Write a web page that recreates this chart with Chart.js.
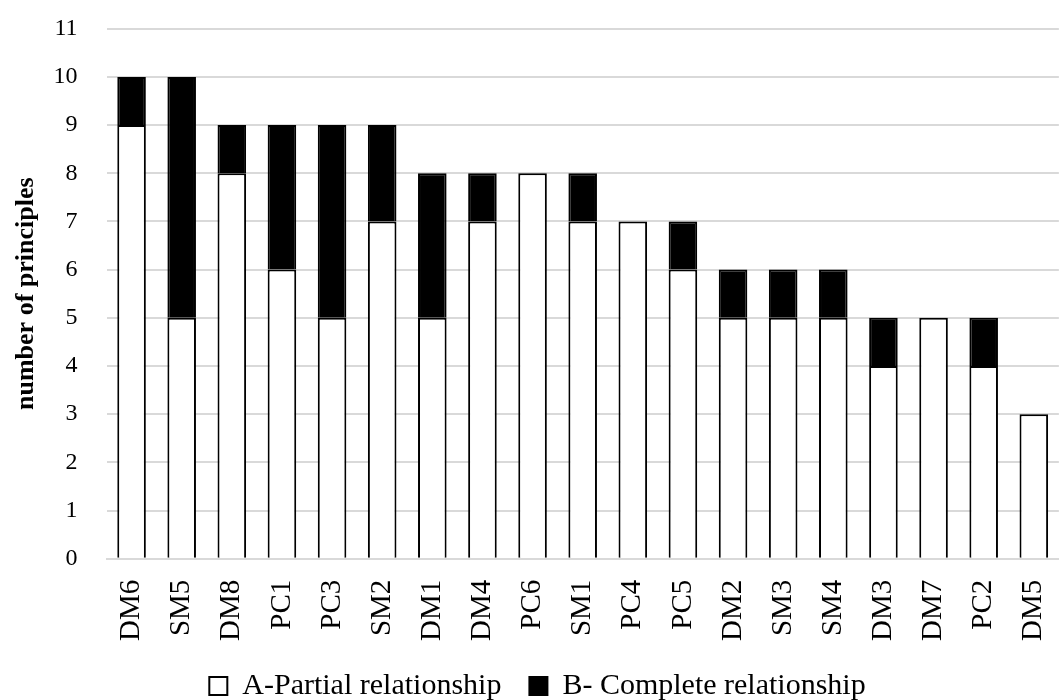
<!DOCTYPE html>
<html>
<head>
<meta charset="utf-8">
<script src="https://cdn.jsdelivr.net/npm/chart.js@4.4.1/dist/chart.umd.min.js"></script>
<style>
  html, body { margin: 0; padding: 0; background: #fff; overflow: hidden; width: 1062px; height: 700px; }
  #chart { display: block; }
</style>
</head>
<body>
<canvas id="chart" width="1090" height="700" style="width:1090px;height:700px"></canvas>
<script>
// Data
const categories = ['DM6', 'SM5', 'DM8', 'PC1', 'PC3', 'SM2', 'DM1', 'DM4', 'PC6', 'SM1',
                    'PC4', 'PC5', 'DM2', 'SM3', 'SM4', 'DM3', 'DM7', 'PC2', 'DM5'];
const partial  = [9, 5, 8, 6, 5, 7, 5, 7, 8, 7, 7, 6, 5, 5, 5, 4, 5, 4, 3];
const complete = [1, 5, 1, 3, 4, 2, 3, 1, 0, 1, 0, 1, 1, 1, 1, 1, 0, 1, 0];
const yMax = 11;

const FONT = "'Liberation Serif', 'Times New Roman', serif";
const GRID = '#d9d9d9';

const ctx = document.getElementById('chart').getContext('2d');
new Chart(ctx, {
  type: 'bar',
  data: {
    labels: categories,
    datasets: [
      {
        label: 'A-Partial relationship',
        data: partial,
        backgroundColor: '#ffffff',
        borderColor: '#000000',
        borderWidth: 2
      },
      {
        label: 'B- Complete relationship',
        data: complete,
        backgroundColor: '#000000',
        borderColor: '#000000',
        borderWidth: 2
      }
    ]
  },
  options: {
    responsive: false,
    animation: false,
    devicePixelRatio: 1,
    barPercentage: 0.57,
    categoryPercentage: 1,
    layout: { padding: { top: 28.7, right: 15, bottom: 0, left: 0 } },
    scales: {
      x: {
        stacked: true,
        grid: { display: false, drawTicks: false },
        border: { display: true, color: GRID, width: 2 },
        ticks: {
          color: '#000',
          font: { family: FONT, size: 29 },
          minRotation: 90,
          maxRotation: 90,
          padding: 21,
          autoSkip: false
        },
        // room for the rotated labels (they are clipped to the scale box)
        afterFit: (scale) => { scale.height = 84.3; }
      },
      y: {
        stacked: true,
        min: 0,
        max: yMax,
        grid: { color: GRID, lineWidth: 2, drawTicks: false },
        border: { display: false },
        ticks: {
          stepSize: 1,
          color: '#000',
          font: { family: FONT, size: 24 },
          padding: 29
        },
        title: {
          display: true,
          text: 'number of principles',
          color: '#000',
          font: { family: FONT, size: 26, weight: 'bold' },
          padding: { top: 11, bottom: 0 }
        },
        afterFit: (scale) => {
          scale.width = 106.5;
          // tick padding would otherwise push the plot top down
          scale.paddingTop = 0;
          scale.paddingBottom = 0;
        }
      }
    },
    plugins: {
      legend: {
        position: 'bottom',
        maxHeight: 57,
        labels: {
          color: '#000',
          font: { family: FONT, size: 30 },
          boxWidth: 18,
          boxHeight: 18,
          padding: 28
        }
      },
      tooltip: { enabled: false }
    }
  }
});
</script>
</body>
</html>
